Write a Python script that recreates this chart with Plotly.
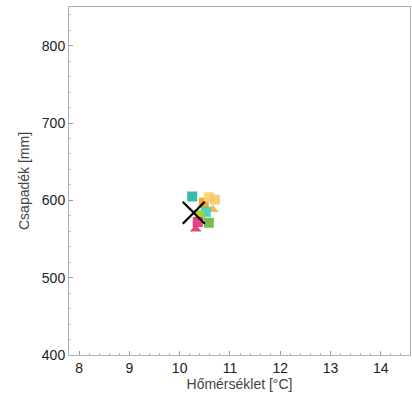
import plotly.graph_objects as go

# Data
temp = [10.25, 10.48, 10.58, 10.70, 10.66, 10.52, 10.40, 10.58, 10.32, 10.36]
prec = [605, 597, 604, 601, 588, 585, 581, 571, 563, 572]
colors = ["#1fb3a3", "#f39a1e", "#f8d36a", "#f7c66a", "#f5ae48", "#33d1cf",
          "#a5d22a", "#6db33f", "#e23a58", "#e8307a"]
symbols = ["square", "square", "square", "square", "triangle-up", "square",
           "square", "square", "triangle-up", "square"]
mean_temp = [10.28]
mean_prec = [584]

fig = go.Figure()
fig.add_trace(go.Scatter(
    x=temp, y=prec, mode="markers",
    marker=dict(color=colors, symbol=symbols, size=10, opacity=0.9, line=dict(width=0)),
    showlegend=False))
fig.add_trace(go.Scatter(
    x=mean_temp, y=mean_prec, mode="markers",
    marker=dict(symbol="x-thin", size=22, line=dict(color="black", width=2.2), color="black"),
    showlegend=False))

axis_common = dict(
    showline=True, linecolor="#b0b0b0", linewidth=1, mirror=True,
    ticks="inside", ticklen=4, tickcolor="#999999",
    showgrid=False, zeroline=False,
    tickfont=dict(family="Liberation Sans, Arial", size=14, color="#222222"),
    minor=dict(ticks="inside", ticklen=2, tickcolor="#bbbbbb"),
)
fig.update_xaxes(range=[7.8, 14.58], dtick=1, tick0=8,
                 title=dict(text="Hőmérséklet [°C]", standoff=4,
                            font=dict(family="Liberation Sans, Arial", size=14, color="#444444")),
                 **axis_common)
fig.update_yaxes(range=[400, 850], dtick=100, tick0=400,
                 title=dict(text="Csapadék [mm]", standoff=8,
                            font=dict(family="Liberation Sans, Arial", size=14, color="#444444")),
                 **axis_common)
fig.update_layout(
    width=412, height=399,
    margin=dict(l=69, r=2, t=7, b=44),
    paper_bgcolor="white", plot_bgcolor="white",
)
fig.write_html("out.html")
